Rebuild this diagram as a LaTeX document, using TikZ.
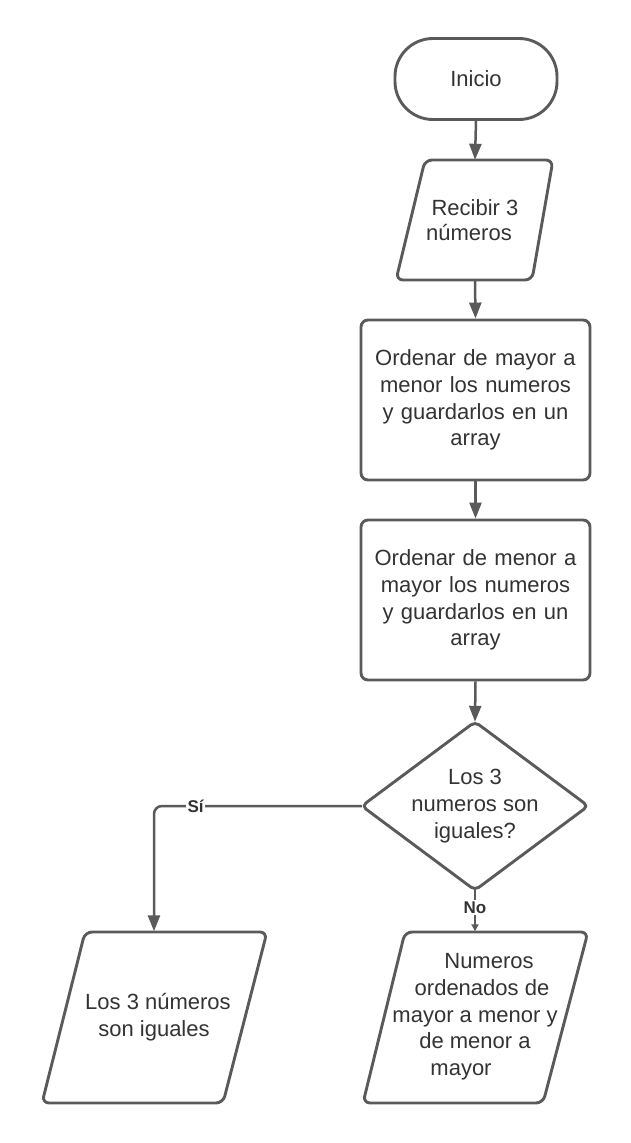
\documentclass[tikz,border=0pt]{standalone}
\usepackage{fontspec}
\setmainfont{Liberation Sans}
\usetikzlibrary{arrows.meta,calc}
\definecolor{linegray}{HTML}{5A5A5A}
\definecolor{txtgray}{HTML}{333333}
\begin{document}
\begin{tikzpicture}[x=1pt,y=-1pt,
  shapeline/.style={draw=linegray,line width=2.9pt,line join=round,rounded corners=7pt},
  txt/.style={font=\fontsize{22}{26.7}\selectfont,text=txtgray,align=center,inner sep=0pt},
  conn/.style={draw=linegray,line width=2.5pt,-{Triangle[length=16pt,width=12pt]}},
  lbl/.style={font=\fontsize{17}{20}\selectfont\bfseries,text=txtgray,fill=white,inner sep=1.5pt}]
\useasboundingbox (0,0) rectangle (630,1143);
% Inicio
\node[txt,draw=linegray,line width=2.9pt,rounded corners=38pt,minimum width=162pt,minimum height=81pt] (start) at (476,79) {Inicio};
% Recibir
\node[txt,minimum width=135pt,minimum height=120pt] (recv) at (475,220) {Recibir 3\\[-1pt]\hspace*{-12pt}números};
\draw[shapeline] (425,160) -- (553,160) -- (532,280) -- (396,280) -- cycle;
% rect 1
\node[txt,shapeline,minimum width=229pt,minimum height=160pt,text width=215pt] (desc) at (475.5,400) {Ordenar de mayor a\\menor los numeros\\y guardarlos en un\\array};
% rect 2
\node[txt,shapeline,minimum width=229pt,minimum height=160pt,text width=215pt] (asc) at (475.5,600) {Ordenar de menor a\\mayor los numeros\\y guardarlos en un\\array};
% decision
\node[txt,minimum width=226pt,minimum height=168pt] (dec) at (475,806) {Los 3\\numeros son\\iguales?};
\draw[shapeline,rounded corners=5pt] (dec.north) -- (dec.east) -- (dec.south) -- (dec.west) -- cycle;
% outputs
\node[txt,minimum width=182pt,minimum height=171pt] (outeq) at (154,1017) {\hspace*{8pt}Los 3 números\\son iguales};
\draw[shapeline] (85,932) -- (267,932) -- (223,1103) -- (42,1103) -- cycle;
\node[txt,minimum width=183pt,minimum height=171pt] (outlist) at (475,1017) {\hspace*{28pt}Numeros\\\hspace*{14pt}ordenados de\\mayor a menor y\\de menor a\hspace*{14pt}\\mayor\hspace*{28pt}};
\draw[shapeline] (405,932) -- (588,932) -- (543,1103) -- (363,1103) -- cycle;
% connectors
\draw[conn] (start.south) -- (recv.north);
\draw[conn] (recv.south) -- (desc.north);
\draw[conn] (desc.south) -- (asc.north);
\draw[conn] (asc.south) -- (dec.north);
\draw[conn,rounded corners=8pt] (dec.west) -| node[lbl,pos=0.4] {Sí} (outeq.north);
\draw[draw=linegray,line width=2.5pt,-{Triangle[length=7pt,width=7pt]}] (dec.south) -- node[lbl,pos=0.43] {No} (outlist.north);
\end{tikzpicture}
\end{document}
